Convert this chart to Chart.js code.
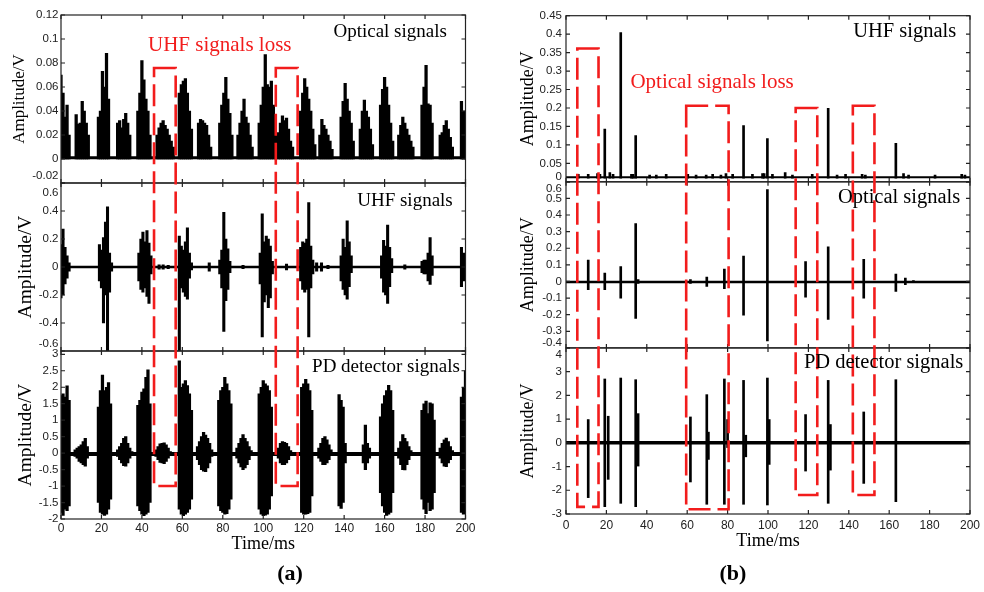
<!DOCTYPE html>
<html>
<head>
<meta charset="utf-8">
<script src="https://cdn.jsdelivr.net/npm/chart.js@4.4.1/dist/chart.umd.min.js"></script>
<style>
html, body { margin: 0; padding: 0; background: #fff; }
body { width: 984px; height: 592px; position: relative; overflow: hidden; }
canvas { position: absolute; top: 0; }
#ca { left: 0; }
#cb { left: 492px; }
.tag { position: absolute; top: 561px; width: 60px; text-align: center; font: bold 22px "Liberation Serif"; line-height: 24px; color: #000; }
</style>
</head>
<body>
<canvas id="ca" width="490" height="592"></canvas>
<canvas id="cb" width="492" height="592"></canvas>
<div class="tag" style="left:260px">(a)</div>
<div class="tag" style="left:703px">(b)</div>
<script>
// time axis (ms)
const timeTicks = [0, 20, 40, 60, 80, 100, 120, 140, 160, 180, 200]

// ---- panel (a) ----
// optical: burst start (ms), then peak amplitude every 1 ms
const optA_start = [0, 7.5, 18.5, 28, 38, 47.5, 58.5, 68, 78.5, 87.5, 98, 107.5, 118.5, 128, 138.5, 148, 158, 167, 178.5, 187.5, 198]
const optA_peak = [
  [0.07, 0.055, 0.035, 0.045, 0.02],
  [0.037, 0.029, 0.03, 0.048, 0.04, 0.03, 0.02],
  [0.035, 0.04, 0.073, 0.06, 0.088, 0.05],
  [0.03, 0.032, 0.026, 0.033, 0.038, 0.03, 0.02],
  [0.04, 0.055, 0.082, 0.066, 0.05, 0.04, 0.02],
  [0.02, 0.026, 0.03, 0.032, 0.028, 0.025, 0.02, 0.015, 0.01],
  [0.055, 0.062, 0.065, 0.067, 0.055, 0.04, 0.025],
  [0.03, 0.033, 0.032, 0.03, 0.028, 0.02, 0.01],
  [0.03, 0.045, 0.055, 0.068, 0.05, 0.038, 0.02],
  [0.02, 0.03, 0.04, 0.05, 0.035, 0.03, 0.02, 0.01],
  [0.03, 0.045, 0.06, 0.087, 0.062, 0.06, 0.065, 0.045, 0.02],
  [0.022, 0.03, 0.036, 0.032, 0.034, 0.025, 0.015, 0.01],
  [0.04, 0.055, 0.067, 0.06, 0.05, 0.04, 0.025, 0.012],
  [0.02, 0.033, 0.028, 0.025, 0.02, 0.015, 0.008],
  [0.035, 0.048, 0.063, 0.05, 0.04, 0.03, 0.015],
  [0.025, 0.04, 0.049, 0.04, 0.035, 0.025, 0.012],
  [0.045, 0.058, 0.068, 0.06, 0.045, 0.03, 0.015],
  [0.02, 0.028, 0.035, 0.03, 0.025, 0.02, 0.015, 0.01],
  [0.045, 0.06, 0.078, 0.046, 0.045, 0.03],
  [0.02, 0.022, 0.028, 0.032, 0.025, 0.018, 0.01],
  [0.048, 0.04, 0.035]
]
const optA_ticks = [-0.02, 0, 0.02, 0.04, 0.06, 0.08, 0.1, 0.12]

// UHF: burst start (ms), max / min every 1 ms
const uhfA_start = [0, 19, 38.5, 48.5, 50.5, 53, 58.5, 73.3, 78.5, 90, 98.5, 111.5, 118.5, 126.4, 128.8, 132, 138.5, 158.5, 170, 178.5, 198]
const uhfA_hi = [
  [0.16, 0.27, 0.14, 0.08, 0.03],
  [0.16, 0.12, 0.21, 0.32, 0.43, 0.1, 0.03],
  [0.1, 0.2, 0.25, 0.18, 0.26, 0.17, 0.08],
  [0.015], [0.015], [0.012],
  [0.22, 0.15, 0.12, 0.18, 0.28, 0.1, 0.03],
  [0.03],
  [0.05, 0.12, 0.39, 0.2, 0.13, 0.04],
  [0.012],
  [0.1, 0.38, 0.18, 0.22, 0.2, 0.15, 0.04],
  [0.02],
  [0.14, 0.18, 0.17, 0.2, 0.46, 0.15, 0.05],
  [0.03], [0.03], [0.012],
  [0.08, 0.2, 0.14, 0.33, 0.18, 0.08],
  [0.08, 0.19, 0.15, 0.3, 0.14, 0.06],
  [0.015],
  [0.04, 0.05, 0.05, 0.1, 0.21, 0.08],
  [0.14, 0.1, 0.05]
]
const uhfA_lo = [
  [-0.22, -0.2, -0.12, -0.08, -0.03],
  [-0.1, -0.15, -0.4, -0.2, -0.6, -0.18, -0.03],
  [-0.1, -0.16, -0.18, -0.15, -0.21, -0.26, -0.05],
  [-0.015], [-0.015], [-0.012],
  [-0.6, -0.15, -0.18, -0.21, -0.23, -0.08, -0.02],
  [-0.03],
  [-0.05, -0.15, -0.46, -0.24, -0.16, -0.04],
  [-0.012],
  [-0.12, -0.5, -0.25, -0.2, -0.29, -0.22, -0.05],
  [-0.02],
  [-0.1, -0.16, -0.18, -0.16, -0.5, -0.15, -0.05],
  [-0.03], [-0.03], [-0.012],
  [-0.1, -0.16, -0.2, -0.23, -0.14, -0.04],
  [-0.08, -0.18, -0.2, -0.26, -0.14, -0.04],
  [-0.015],
  [-0.04, -0.05, -0.05, -0.1, -0.125, -0.06],
  [-0.14, -0.1, -0.04]
]
const uhfA_ticks = [-0.6, -0.4, -0.2, 0, 0.2, 0.4, 0.6]

// PD detector: burst start (ms), max / min every 1 ms
const pdA_start = [0, 7, 18.5, 28, 38, 47, 58.5, 67.5, 78, 87, 98, 107.5, 119, 127.5, 137.5, 149.5, 158, 167, 178.5, 187.5, 198]
const pdA_hi = [
  [1.75, 1.8, 1.7, 2.04, 1.6],
  [0.1, 0.15, 0.2, 0.25, 0.35, 0.45, 0.2],
  [1.4, 1.9, 2.37, 1.9, 2.0, 2.14, 1.5],
  [0.1, 0.2, 0.3, 0.45, 0.5, 0.3, 0.15, 0.05],
  [1.45, 1.6, 1.85, 1.95, 2.3, 2.53, 1.5],
  [0.1, 0.2, 0.28, 0.3, 0.31, 0.25, 0.15, 0.05],
  [2.8, 2.0, 2.1, 2.2, 2.05, 1.8, 1.3],
  [0.2, 0.35, 0.5, 0.63, 0.55, 0.45, 0.3, 0.1],
  [1.6, 1.9, 2.0, 2.3, 2.1, 1.9, 1.5],
  [0.15, 0.3, 0.45, 0.56, 0.45, 0.35, 0.2, 0.08],
  [1.8, 2.0, 2.2, 2.1, 2.04, 1.9, 1.4],
  [0.15, 0.3, 0.35, 0.33, 0.3, 0.2, 0.08],
  [2.0, 2.1, 2.24, 2.1, 1.9, 1.3],
  [0.15, 0.3, 0.45, 0.5, 0.4, 0.25, 0.1],
  [1.78, 1.6, 1.4, 0.3],
  [0.25, 0.85, 0.3, 0.15],
  [1.1, 1.5, 1.75, 1.9, 2.06, 1.9, 1.3],
  [0.15, 0.35, 0.56, 0.45, 0.35, 0.2, 0.08],
  [1.3, 1.5, 1.58, 1.2, 1.53, 1.5, 1.0],
  [0.15, 0.3, 0.4, 0.46, 0.35, 0.2, 0.08],
  [1.7, 2.0, 2.5]
]
const pdA_lo = [
  [-1.8, -1.89, -1.7, -1.75, -1.6],
  [-0.1, -0.15, -0.25, -0.3, -0.35, -0.4, -0.15],
  [-1.5, -1.8, -1.85, -1.89, -1.85, -1.7, -1.4],
  [-0.1, -0.2, -0.3, -0.38, -0.4, -0.3, -0.15, -0.05],
  [-1.6, -1.75, -1.85, -1.9, -1.85, -1.8, -1.5],
  [-0.1, -0.2, -0.28, -0.3, -0.32, -0.25, -0.15, -0.05],
  [-1.7, -1.85, -1.9, -1.85, -1.8, -1.7, -1.4],
  [-0.2, -0.35, -0.5, -0.55, -0.56, -0.45, -0.3, -0.1],
  [-1.6, -1.75, -1.8, -1.85, -1.84, -1.7, -1.4],
  [-0.15, -0.3, -0.42, -0.5, -0.45, -0.35, -0.2, -0.08],
  [-1.7, -1.85, -1.9, -1.88, -1.85, -1.7, -1.3],
  [-0.15, -0.3, -0.35, -0.35, -0.3, -0.2, -0.08],
  [-1.8, -1.85, -1.85, -1.84, -1.8, -1.3],
  [-0.15, -0.25, -0.35, -0.35, -0.3, -0.2, -0.08],
  [-1.6, -1.68, -1.5, -0.3],
  [-0.3, -0.5, -0.3, -0.15],
  [-1.2, -1.6, -1.8, -1.89, -1.85, -1.8, -1.2],
  [-0.15, -0.35, -0.5, -0.51, -0.35, -0.2, -0.08],
  [-1.4, -1.7, -1.84, -1.5, -1.75, -1.7, -1.2],
  [-0.15, -0.3, -0.4, -0.41, -0.3, -0.2, -0.08],
  [-1.8, -1.85, -1.8]
]
const pdA_ticks = [-2, -1.5, -1, -0.5, 0, 0.5, 1, 1.5, 2, 2.5, 3]

// loss windows (a): [from ms, to ms, top on optical axis, bottom on PD axis]
const lossA = [[46, 56.7, 0.0758, -1.0], [106.2, 117, 0.0758, -1.0]]

// ---- panel (b) ----
const uhfB_t = [6.1, 11, 15.6, 16.8, 19.2, 21.7, 23.3, 27.1, 32.4, 33.2, 34.5, 41.4, 44.7, 49.6, 60.3, 64.4, 69.4, 72.6, 76.7, 79.2, 82.5, 87.9, 92.3, 97.3, 98.1, 99.7, 102.2, 108.5, 112.1, 121.9, 129.8, 134.2, 138.4, 146.6, 148.2, 163.3, 167.1, 169.6, 182.7, 195.9, 197.5]
const uhfB_v = [0.02, 0.02, 0.022, 0.02, 0.143, 0.025, 0.02, 0.404, 0.02, 0.02, 0.125, 0.018, 0.018, 0.02, 0.02, 0.018, 0.018, 0.02, 0.018, 0.022, 0.02, 0.152, 0.02, 0.022, 0.022, 0.117, 0.02, 0.025, 0.018, 0.02, 0.199, 0.018, 0.02, 0.02, 0.018, 0.104, 0.022, 0.018, 0.018, 0.02, 0.018]
const uhfB_floor = 0.01
const uhfB_ticks = [0, 0.05, 0.1, 0.15, 0.2, 0.25, 0.3, 0.35, 0.4, 0.45]

const optB_t = [11, 19.2, 27.1, 34.5, 35.7, 61.6, 69.7, 78.4, 87.9, 99.7, 118.6, 129.8, 147.4, 163.3, 168, 172]
const optB_hi = [0.129, 0.05, 0.09, 0.348, 0.012, 0.012, 0.026, 0.074, 0.153, 0.553, 0.119, 0.209, 0.133, 0.044, 0.02, 0.006]
const optB_lo = [-0.05, -0.05, -0.1, -0.223, -0.012, -0.012, -0.03, -0.044, -0.203, -0.358, -0.095, -0.229, -0.1, -0.06, -0.02, -0.006]
const optB_ticks = [-0.4, -0.3, -0.2, -0.1, 0, 0.1, 0.2, 0.3, 0.4, 0.5, 0.6]

const pdB_t = [11, 19.2, 20.9, 27.1, 34.5, 35.7, 61.6, 69.7, 70.5, 78.4, 80, 87.9, 89, 99.7, 100.6, 118.6, 129.8, 130.9, 147.4, 163.3]
const pdB_hi = [0.98, 2.69, 1.12, 2.73, 2.66, 1.23, 1.09, 2.03, 0.45, 2.69, 0.98, 2.63, 0.32, 2.73, 0.98, 1.19, 2.63, 0.77, 1.3, 2.66]
const pdB_lo = [-2.31, -2.69, -1.54, -2.55, -2.69, -0.98, -1.65, -2.59, -0.7, -2.59, -0.2, -2.59, -0.59, -2.62, -0.91, -1.19, -2.55, -1.15, -1.71, -2.48]
const pdB_ticks = [-3, -2, -1, 0, 1, 2, 3, 4]

const lossB = [[5.6, 16.1, 0.361, -2.7], [59.5, 80.5, 0.206, -2.8], [113.7, 124.4, 0.2, -2.2], [142, 152.7, 0.206, -2.2]]

// ---------------------------------------------------------------
function bursts(start, hi, lo) {
  const out = []
  start.forEach((t0, i) => hi[i].forEach((h, j) => {
    out.push({ x: t0 + j, y: lo ? [lo[i][j], h] : h })
  }))
  return out
}
function spikes(t, hi, lo) {
  return t.map((x, i) => ({ x, y: [Array.isArray(lo) ? lo[i] : lo, hi[i]] }))
}
// all bar sets share one group so barThickness is honoured and bars are not shifted
function bars(data, axis, w) {
  return { type: 'bar', data, yAxisID: axis, stack: 'g', backgroundColor: '#000', borderWidth: 0, barThickness: w }
}
function base(axis, v, w) {
  return { type: 'line', data: [{ x: 0, y: v }, { x: 200, y: v }], yAxisID: axis, borderColor: '#000', borderWidth: w, pointRadius: 0 }
}

function yAxis(min, max, vals, hide, tSize, tPad, width, pad) {
  return {
    type: 'linear', position: 'left', stack: 'sub', stackWeight: 1, stacked: false, min, max,
    grid: { display: false, drawTicks: false }, border: { display: false },
    afterBuildTicks: s => { s.ticks = vals.map(v => ({ value: v })) },
    ticks: { autoSkip: false, padding: pad, color: '#222', font: { family: 'Liberation Sans', size: 11.5 },
      callback: v => hide.includes(v) ? '' : String(v) },
    title: { display: true, text: 'Amplitude/V', color: '#000', font: { family: 'Liberation Serif', size: tSize }, padding: { top: tPad, bottom: 0 } },
    afterFit: s => { s.width = width }
  }
}
function xAxis(h, pad) {
  return {
    type: 'linear', min: 0, max: 200, offset: false,
    grid: { display: false, drawTicks: false }, border: { display: false },
    afterBuildTicks: s => { s.ticks = timeTicks.map(v => ({ value: v })) },
    ticks: { autoSkip: false, maxRotation: 0, padding: pad, color: '#222', font: { family: 'Liberation Sans', size: 12 } },
    title: { display: true, text: 'Time/ms', color: '#000', font: { family: 'Liberation Serif', size: 18 }, padding: { top: 0, bottom: 4 } },
    afterFit: s => { s.height = h }
  }
}

// frames, inward ticks, shifted edge labels, notes and the dashed loss windows
function decor(cfg) {
  return {
    id: 'decor',
    afterDatasetsDraw(chart) {
      const { ctx, chartArea: ca, scales } = chart
      const xs = scales.x
      ctx.save()
      ctx.strokeStyle = '#222'
      ctx.lineWidth = 1.2
      cfg.axes.forEach(id => {
        const s = scales[id]
        ctx.strokeRect(ca.left, s.top, ca.right - ca.left, s.bottom - s.top)
        ctx.beginPath()
        s.ticks.forEach(t => {
          const y = s.getPixelForValue(t.value)
          ctx.moveTo(ca.left, y); ctx.lineTo(ca.left + 4, y)
          ctx.moveTo(ca.right, y); ctx.lineTo(ca.right - 4, y)
        })
        xs.ticks.forEach(t => {
          const x = xs.getPixelForValue(t.value)
          ctx.moveTo(x, s.top); ctx.lineTo(x, s.top + 4)
          ctx.moveTo(x, s.bottom); ctx.lineTo(x, s.bottom - 4)
        })
        ctx.stroke()
      })

      ctx.fillStyle = '#222'
      ctx.font = '11.5px "Liberation Sans"'
      ctx.textAlign = 'right'
      ctx.textBaseline = 'middle'
      cfg.edges.forEach(([id, v, dy]) => {
        const s = scales[id]
        ctx.fillText(String(v), s.right - cfg.pad, s.getPixelForValue(v) + dy)
      })

      ctx.strokeStyle = '#f21c1c'
      ctx.lineWidth = 2.6
      ctx.setLineDash([22, 7])
      const top = scales[cfg.axes[0]], bot = scales[cfg.axes[2]]
      cfg.boxes.forEach(([x1, x2, y1, y2]) => {
        const l = xs.getPixelForValue(x1), r = xs.getPixelForValue(x2)
        const t = top.getPixelForValue(y1), b = bot.getPixelForValue(y2)
        ctx.strokeRect(l, t, r - l, b - t)
      })
      ctx.setLineDash([])

      cfg.notes.forEach(n => {
        ctx.fillStyle = n.red ? '#f21c1c' : '#000'
        ctx.font = n.size + 'px "Liberation Serif"'
        ctx.textAlign = n.align
        ctx.fillText(n.text, xs.getPixelForValue(n.x), scales[n.axis].getPixelForValue(n.y))
      })
      ctx.restore()
    }
  }
}

const common = {
  responsive: false, animation: false, events: [],
  plugins: { legend: { display: false }, tooltip: { enabled: false } }
}

new Chart(document.getElementById('ca'), {
  type: 'bar',
  data: {
    datasets: [
      bars(bursts(optA_start, optA_peak), 'yO', 2.6),
      base('yO', 0.001, 3),
      bars(bursts(uhfA_start, uhfA_hi, uhfA_lo), 'yU', 2.4),
      base('yU', 0, 2.5),
      bars(bursts(pdA_start, pdA_hi, pdA_lo), 'yP', 2.6),
      base('yP', -0.03, 4)
    ]
  },
  options: {
    ...common,
    layout: { padding: { left: 0, top: 15, right: 24.5, bottom: 33 } },
    scales: {
      x: xAxis(40, 2),
      yP: yAxis(-2, 3.1, pdA_ticks, [], 19.5, 14.3, 61, 2.5),
      yU: yAxis(-0.6, 0.6, uhfA_ticks, [0.6, -0.6], 19.5, 14.3, 61, 2.5),
      yO: yAxis(-0.02, 0.12, optA_ticks, [-0.02], 17, 9.8, 61, 2.5)
    }
  },
  plugins: [decor({
    axes: ['yO', 'yU', 'yP'], pad: 2.5,
    edges: [['yO', -0.02, -7], ['yU', 0.6, 10], ['yU', -0.6, -7]],
    boxes: lossA,
    notes: [
      { text: 'Optical signals', x: 190.8, y: 0.106, axis: 'yO', align: 'right', size: 19 },
      { text: 'UHF signals', x: 193.7, y: 0.468, axis: 'yU', align: 'right', size: 19 },
      { text: 'PD detector signals', x: 197.2, y: 2.6, axis: 'yP', align: 'right', size: 19 },
      { text: 'UHF signals loss', x: 43, y: 0.0948, axis: 'yO', align: 'left', size: 21, red: true }
    ]
  })]
})

new Chart(document.getElementById('cb'), {
  type: 'bar',
  data: {
    datasets: [
      bars(spikes(uhfB_t, uhfB_v, uhfB_floor), 'yU', 2),
      base('yU', 0.012, 2),
      bars(spikes(optB_t, optB_hi, optB_lo), 'yO', 2),
      base('yO', -0.004, 2.5),
      bars(spikes(pdB_t, pdB_hi, pdB_lo), 'yP', 2),
      base('yP', 0, 3.5)
    ]
  },
  options: {
    ...common,
    layout: { padding: { left: 0, top: 15.7, right: 12, bottom: 36 } },
    scales: {
      x: xAxis(42, 4),
      yP: yAxis(-3, 4, pdB_ticks, [4], 18, 25, 74, 4),
      yO: yAxis(-0.4, 0.6, optB_ticks, [0.6, -0.4], 18, 25, 74, 4),
      yU: yAxis(0, 0.45, uhfB_ticks, [0], 18, 25, 74, 4)
    }
  },
  plugins: [decor({
    axes: ['yU', 'yO', 'yP'], pad: 4,
    edges: [['yU', 0, -5], ['yO', 0.6, 7], ['yO', -0.4, -5], ['yP', 4, 7]],
    boxes: lossB,
    notes: [
      { text: 'UHF signals', x: 193.2, y: 0.408, axis: 'yU', align: 'right', size: 20.5 },
      { text: 'Optical signals', x: 195.2, y: 0.507, axis: 'yO', align: 'right', size: 20.5 },
      { text: 'PD detector signals', x: 196.7, y: 3.39, axis: 'yP', align: 'right', size: 20.5 },
      { text: 'Optical signals loss', x: 31.9, y: 0.27, axis: 'yU', align: 'left', size: 21, red: true }
    ]
  })]
})
</script>
</body>
</html>
